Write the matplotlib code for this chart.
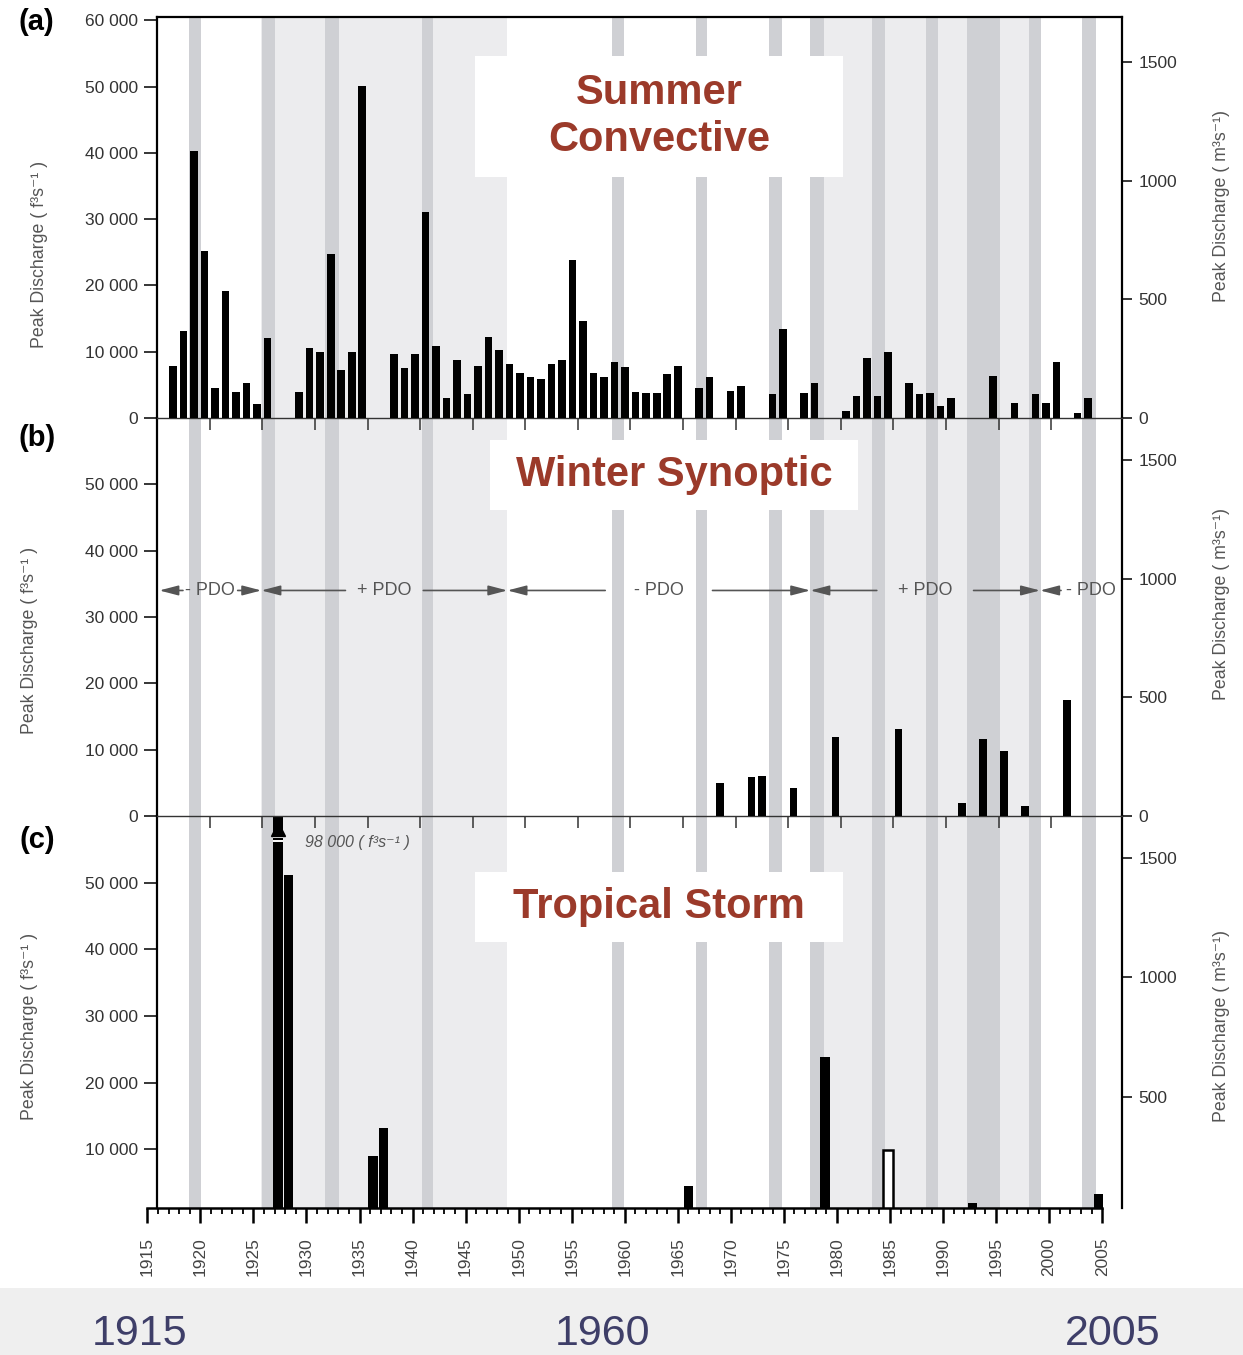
import matplotlib
matplotlib.use("Agg")
import matplotlib.pyplot as plt
from matplotlib.patches import Rectangle
import numpy as np

plt.rcParams["font.family"] = ["Liberation Sans", "DejaVu Sans"]

# ------------------------------------------------------------------ data
# annual peak discharge (ft3/s), split by flood-producing storm type
summer_years = [1916, 1917, 1918, 1919, 1920, 1921, 1922, 1923, 1924, 1925,
                1928, 1929, 1930, 1931, 1932, 1933, 1934, 1937, 1938, 1939,
                1940, 1941, 1942, 1943, 1944, 1945, 1946, 1947, 1948, 1949,
                1950, 1951, 1952, 1953, 1954, 1955, 1956, 1957, 1958, 1959,
                1960, 1961, 1962, 1963, 1964, 1966, 1967, 1969, 1970, 1973,
                1974, 1976, 1977, 1980, 1981, 1982, 1983, 1984, 1986, 1987,
                1988, 1989, 1990, 1994, 1996, 1998, 1999, 2000, 2002, 2003]
summer_cfs = [7840, 13170, 40270, 25240, 4580, 19210, 3970, 5330, 2060, 12020,
              3870, 10510, 9900, 24740, 7240, 9900, 50080, 9600, 7590, 9600,
              31120, 10910, 3070, 8750, 3570, 7840, 12220, 10260, 8140, 6840,
              6130, 5880, 8140, 8750, 23830, 14680, 6840, 6130, 8500, 7640,
              3970, 3720, 3720, 6640, 7840, 4580, 6130, 4120, 4830, 3570,
              13370, 3720, 5330, 1060, 3320, 9000, 3320, 9900, 5330, 3570,
              3720, 1810, 3070, 6330, 2210, 3570, 2210, 8400, 800, 3070]

winter_years = [1968, 1971, 1972, 1975, 1979, 1985, 1991, 1993, 1995, 1997, 2001]
winter_cfs = [5030, 5830, 6030, 4170, 11970, 13070, 1910, 11610, 9850, 1510, 17500]

tropical_years = [1926, 1927, 1935, 1936, 1965, 1978, 1984, 1992, 2004]
tropical_cfs = [98000, 51200, 9000, 13150, 4500, 23800, 9900, 2000, 3250]
tropical_hollow = [False, False, False, False, False, False, True, False, False]

# El Nino years (grey strips) and PDO phases
enso_start = [1918.0, 1925.0, 1931.0, 1940.2, 1958.2, 1966.2, 1973.2, 1977.1,
              1983.0, 1988.1, 1992.0, 1997.9, 2002.9]
enso_end = [1919.2, 1926.2, 1932.3, 1941.2, 1959.4, 1967.3, 1974.4, 1978.4,
            1984.2, 1989.2, 1995.1, 1999.0, 2004.3]
pdo_edges = [1915.2, 1924.9, 1948.3, 1977.1, 1998.95, 2006.74]
pdo_sign = ["-", "+", "-", "+", "-"]

CFS_PER_CMS = 35.8          # right-hand scale as drawn in the figure

# ------------------------------------------------------------------ style
W, H = 1243, 1355
STRIP = "#cfd0d4"
LIGHT = "#ececee"
RED = "#9b3a2a"
XLIM = (1914.98, 2006.74)


def px_box(x0, y0, x1, y1):
    return [x0 / W, 1 - y1 / H, (x1 - x0) / W, (y1 - y0) / H]


def fmt(v):
    return f"{v:,}".replace(",", " ")


fig = plt.figure(figsize=(W / 100, H / 100), dpi=100)

ax_a = fig.add_axes(px_box(157, 17, 1122, 418))
ax_b = fig.add_axes(px_box(157, 418, 1122, 816))
ax_c = fig.add_axes(px_box(157, 816, 1122, 1208))
ax_x = fig.add_axes(px_box(140, 1207, 1122, 1208))
ax_a.set_zorder(3); ax_b.set_zorder(2); ax_c.set_zorder(1); ax_x.set_zorder(4)

panels = [(ax_a, (0, 60500), range(0, 60001, 10000), [0, 500, 1000, 1500]),
          (ax_b, (0, 60000), range(0, 50001, 10000), [0, 500, 1000, 1500]),
          (ax_c, (1200, 60000), range(10000, 50001, 10000), [500, 1000, 1500])]

for ax, ylim, lticks, rticks in panels:
    ax.set_facecolor("none")
    ax.set_xlim(*XLIM)
    ax.set_ylim(*ylim)
    for s, e, sg in zip(pdo_edges[:-1], pdo_edges[1:], pdo_sign):
        if sg == "+":
            ax.axvspan(s, e, color=LIGHT, lw=0, zorder=0.2)
    for s, e in zip(enso_start, enso_end):
        ax.axvspan(s, e, color=STRIP, lw=0, zorder=0.5)
    ax.set_yticks(list(lticks))
    ax.set_yticklabels([fmt(v) for v in lticks])
    ax.tick_params(axis="y", direction="out", length=9.5, width=1.1,
                   labelsize=12.5, labelcolor="#333", pad=4)
    ax.spines["left"].set_linewidth(1.6)
    ax.spines["right"].set_visible(False)
    ax.spines["top"].set_visible(False)
    ax.spines["bottom"].set_linewidth(1.0)
    ax.spines["bottom"].set_color("#333")
    sec = ax.secondary_yaxis("right", functions=(lambda v: v / CFS_PER_CMS,
                                                 lambda v: v * CFS_PER_CMS))
    sec.set_yticks(rticks)
    sec.set_yticklabels([str(v) for v in rticks])
    sec.tick_params(direction="out", length=7, width=1.1, labelsize=12.5,
                    labelcolor="#333", pad=5)
    sec.spines["right"].set_linewidth(1.6)

ax_a.spines["top"].set_visible(True)
ax_a.spines["top"].set_linewidth(1.6)
for ax in (ax_a, ax_b):
    ax.set_xticks(range(1920, 2001, 5))
    ax.tick_params(axis="x", direction="out", length=8.6, width=1.1,
                   color="#333", labelbottom=False)
ax_c.spines["bottom"].set_visible(False)
ax_c.tick_params(axis="x", bottom=False, labelbottom=False)

# bars
ax_a.bar(np.array(summer_years) + 0.5, summer_cfs, width=0.72, color="k",
         lw=0, zorder=3)
ax_b.bar(np.array(winter_years) + 0.5, winter_cfs, width=0.72, color="k",
         lw=0, zorder=3)
ty = np.array(tropical_years) + 0.5
tv = np.array(tropical_cfs)
hol = np.array(tropical_hollow)
ax_c.bar(ty[~hol], tv[~hol], width=0.9, color="k", lw=0, zorder=3)
ax_c.bar(ty[hol], tv[hol], width=0.95, facecolor="white", edgecolor="k",
         lw=1.8, zorder=3)

# off-scale 1926 peak: arrow, break marks and its value
top = ax_c.get_ylim()[1]
big = int(np.argmax(tv))
ax_c.plot(ty[big], top - 1900, marker="^", ms=10, color="k", zorder=5,
          clip_on=False)
for dy in (3100, 3800):
    ax_c.plot([ty[big] - 0.45, ty[big] + 0.45], [top - dy] * 2, color="white",
              lw=1.4, zorder=4, solid_capstyle="butt")
ax_c.text(ty[big] + 2.55, top - 3900, f"{fmt(tv[big])} ( f³s⁻¹ )",
          style="italic", fontsize=11.5, color="#555", va="center", ha="left",
          zorder=5)

# PDO phase arrows
pdo_y = 34000
pdo_gap = [2.6, 3.7, 5.1, 4.6, 1.9]
pdo_text_dx = [0, 0, 0, 0, 0.9]
for s, e, sg, gap, dx in zip(pdo_edges[:-1], pdo_edges[1:], pdo_sign,
                             pdo_gap, pdo_text_dx):
    c = (s + e) / 2
    ax_b.text(c + dx, pdo_y, f"{sg} PDO", ha="center", va="center",
              fontsize=13, color="#555", zorder=4, clip_on=True)
    for end, start in ((s, c - gap), (e, c + gap)):
        if end > XLIM[1] - 0.5:
            continue
        ax_b.annotate("", xy=(end, pdo_y), xytext=(start, pdo_y),
                      arrowprops=dict(arrowstyle="-|>,head_length=1.15,head_width=0.3",
                                      color="#555", lw=1.2, shrinkA=0, shrinkB=0),
                      zorder=4)

# bottom year axis (drawn on its own scale, as in the source figure)
ax_x.set_facecolor("none")
ax_x.set_xlim(1914.31, 2006.87)
ax_x.set_ylim(0, 1)
for s in ("top", "left", "right"):
    ax_x.spines[s].set_visible(False)
ax_x.spines["bottom"].set_bounds(1915, 2005)
ax_x.spines["bottom"].set_linewidth(1.8)
ax_x.set_yticks([])
ax_x.set_xticks(range(1915, 2006, 5))
ax_x.set_xticks(range(1915, 2006), minor=True)
ax_x.tick_params(axis="x", which="major", length=11, width=1.8, pad=10,
                 labelrotation=90, labelsize=12.5, labelcolor="#444")
ax_x.tick_params(axis="x", which="minor", length=4.5, width=1.3)

# panel letters and axis titles
for lbl, x, y in (("(a)", 36, 22), ("(b)", 37, 438), ("(c)", 37, 840)):
    fig.text(x / W, 1 - y / H, lbl, fontsize=21, fontweight="bold",
             ha="center", va="center")
for x, y in ((40, 254), (30, 640), (30, 1026)):
    fig.text(x / W, 1 - y / H, "Peak Discharge ( f³s⁻¹ )", rotation=90,
             fontsize=12.8, color="#555", ha="center", va="center")
for x, y in ((1221, 206), (1221, 604), (1221, 1026)):
    fig.text(x / W, 1 - y / H, "Peak Discharge ( m³s⁻¹)", rotation=90,
             fontsize=12.8, color="#555", ha="center", va="center")

# storm-type title boxes
for text, (x0, y0, x1, y1) in (("Summer\nConvective", (475, 56, 843, 177)),
                               ("Winter Synoptic", (490, 440, 858, 510)),
                               ("Tropical Storm", (475, 872, 843, 942))):
    fig.add_artist(Rectangle((x0 / W, 1 - y1 / H), (x1 - x0) / W, (y1 - y0) / H,
                             transform=fig.transFigure, facecolor="white",
                             edgecolor="none", zorder=10))
    fig.text((x0 + x1) / 2 / W, 1 - (y0 + y1) / 2 / H, text, fontsize=30,
             fontweight="bold", color=RED, ha="center", va="center",
             linespacing=1.25, zorder=11)

# slide footer with the period end points
fig.add_artist(Rectangle((0, 0), 1, (H - 1288) / H, transform=fig.transFigure,
                         facecolor="#efefef", edgecolor="none", zorder=0))
for yr, x in (("1915", 140), ("1960", 603), ("2005", 1113)):
    fig.text(x / W, 1 - 1334 / H, yr, fontsize=31, color="#3e3e68",
             ha="center", va="center", zorder=12)

fig.savefig("out.png", dpi=100)
